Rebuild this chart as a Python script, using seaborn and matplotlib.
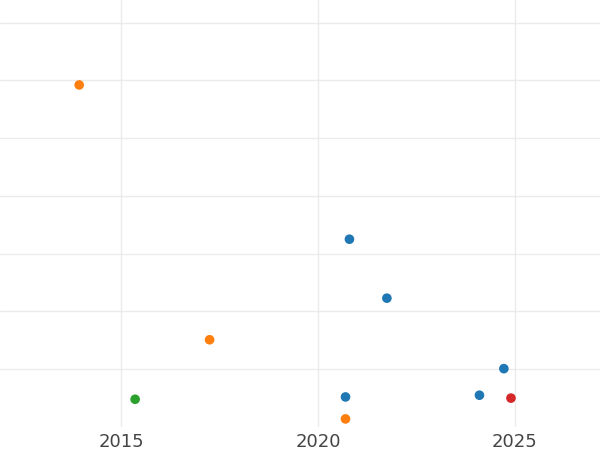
import matplotlib
matplotlib.use('Agg')
import matplotlib.pyplot as plt
import seaborn as sns
import pandas as pd

years = [2013.94, 2020.8, 2021.75, 2017.25, 2024.72, 2015.36, 2020.7, 2020.7, 2024.1, 2024.9]
values = [59.2, 32.5, 22.3, 15.1, 10.1, 4.8, 5.2, 1.4, 5.5, 5.0]
groups = ['B', 'A', 'A', 'B', 'A', 'C', 'A', 'B', 'A', 'D']
group_order = ['A', 'B', 'C', 'D']
palette = ['#1f77b4', '#ff7f0e', '#2ca02c', '#d62728']

df = pd.DataFrame({'year': years, 'value': values, 'group': groups})

sns.set_style('whitegrid', {'grid.color': '#ebebeb', 'axes.edgecolor': 'white'})
fig = plt.figure(figsize=(6, 4.5), dpi=100)
ax = fig.add_axes([0, 23 / 450, 1, 427 / 450])
sns.scatterplot(data=df, x='year', y='value', hue='group', hue_order=group_order,
                palette=palette, s=48, linewidth=0, legend=False, ax=ax)

ax.set_xlim(2011.93, 2027.16)
ax.set_ylim(0, 73.9)
ax.set_xticks([2015, 2020, 2025])
ax.set_yticks([10, 20, 30, 40, 50, 60, 70])
ax.set_yticklabels([])
ax.grid(True, linewidth=1.0, color='#ebebeb')
ax.tick_params(axis='x', labelsize=13, labelcolor='#444444', length=0, pad=4)
ax.tick_params(axis='y', length=0)
ax.set_xlabel('')
ax.set_ylabel('')
for s in ax.spines.values():
    s.set_visible(False)

fig.savefig('out.png', dpi=100)
